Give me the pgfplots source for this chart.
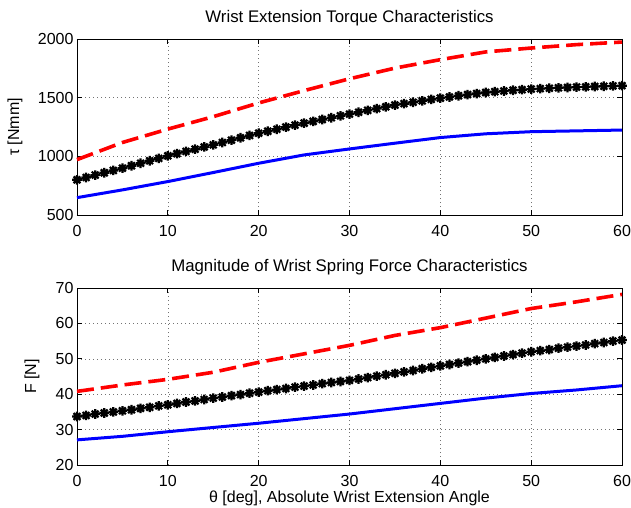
\documentclass[border=0pt]{standalone}
\usepackage{fontspec}
\setmainfont{Liberation Sans}
\usepackage{pgfplots}
\pgfplotsset{compat=1.18}
\usepackage{pgfplotstable}

\pgfdeclareplotmark{mstar}{%
  \pgfpathmoveto{\pgfqpoint{-\pgfplotmarksize}{0pt}}%
  \pgfpathlineto{\pgfqpoint{\pgfplotmarksize}{0pt}}%
  \pgfpathmoveto{\pgfqpoint{0pt}{-\pgfplotmarksize}}%
  \pgfpathlineto{\pgfqpoint{0pt}{\pgfplotmarksize}}%
  \pgfpathmoveto{\pgfqpoint{-0.707\pgfplotmarksize}{-0.707\pgfplotmarksize}}%
  \pgfpathlineto{\pgfqpoint{0.707\pgfplotmarksize}{0.707\pgfplotmarksize}}%
  \pgfpathmoveto{\pgfqpoint{-0.707\pgfplotmarksize}{0.707\pgfplotmarksize}}%
  \pgfpathlineto{\pgfqpoint{0.707\pgfplotmarksize}{-0.707\pgfplotmarksize}}%
  \pgfusepathqstroke}

\pgfplotstableread{
x y
0 972
5 1118
10 1232
15 1338
20 1455
25 1560
30 1661
35 1752
40 1824
45 1890
50 1923
55 1952
60 1974
}\topred
\pgfplotstableread{
x y
0 648
5 714
10 785
15 862
20 941
25 1012
30 1063
35 1112
40 1160
45 1192
50 1210
55 1217
60 1224
}\topblue
\pgfplotstableread{
x y
0 800
1 820
2 840
3 860
4 880
5 899
6 920
7 941
8 962
9 983
10 1004
11 1023
12 1042
13 1061
14 1080
15 1098
16 1118
17 1138
18 1158
19 1178
20 1197
21 1214
22 1231
23 1249
24 1266
25 1283
26 1298
27 1314
28 1329
29 1345
30 1360
31 1376
32 1392
33 1407
34 1422
35 1437
36 1449
37 1461
38 1473
39 1485
40 1496
41 1506
42 1516
43 1526
44 1535
45 1544
46 1551
47 1557
48 1563
49 1568
50 1573
51 1577
52 1580
53 1584
54 1587
55 1590
56 1592
57 1595
58 1597
59 1600
60 1602
}\topblack
\pgfplotstableread{
x y
0 40.8
5 42.6
10 44.2
15 46.2
20 49.0
25 51.4
30 53.8
35 56.6
40 58.8
45 61.5
50 64.2
55 66.1
60 68.2
}\botred
\pgfplotstableread{
x y
0 27.1
5 28.1
10 29.4
15 30.6
20 31.8
25 33.1
30 34.4
35 35.9
40 37.4
45 38.9
50 40.2
55 41.2
60 42.4
}\botblue
\pgfplotstableread{
x y
0 33.7
1 34.0
2 34.4
3 34.7
4 35.0
5 35.3
6 35.6
7 36.0
8 36.3
9 36.7
10 37.0
11 37.4
12 37.8
13 38.1
14 38.5
15 38.9
16 39.2
17 39.6
18 39.9
19 40.3
20 40.6
21 41.0
22 41.3
23 41.6
24 42.0
25 42.3
26 42.6
27 43.0
28 43.3
29 43.6
30 43.9
31 44.3
32 44.7
33 45.1
34 45.5
35 45.9
36 46.3
37 46.7
38 47.2
39 47.6
40 48.0
41 48.4
42 48.8
43 49.2
44 49.6
45 50.0
46 50.4
47 50.8
48 51.2
49 51.6
50 52.0
51 52.3
52 52.6
53 53.0
54 53.3
55 53.6
56 53.9
57 54.3
58 54.6
59 55.0
60 55.3
}\botblack

\pgfplotsset{
  mstyle/.style={
    scale only axis, width=545pt,
    xmin=0, xmax=60, xtick={0,10,...,60},
    grid=major,
    major grid style={black!55, line width=0.5pt, dash pattern=on 1pt off 3pt},
    axis line style={line width=0.7pt},
    tick align=inside, tick pos=both,
    major tick length=5pt,
    tick style={line width=0.7pt, black},
    /pgf/number format/assume math mode=true,
    /pgf/number format/1000 sep={},
    ticklabel style={font=\fontsize{16}{19}\selectfont},
    xticklabel style={anchor=base, yshift=-21pt},
    label style={font=\fontsize{16}{19}\selectfont},
    title style={font=\fontsize{16.8}{20}\selectfont, at={(0.5,1)}, anchor=base, yshift=10.5pt},
    clip=false,
  },
  redl/.style={red, line width=3.6pt, dash pattern=on 17pt off 7pt},
  bluel/.style={blue, line width=3pt},
  blackl/.style={black, line width=1.6pt, mark=mstar, mark size=4.8pt, mark options={line width=2.2pt}},
}

\begin{document}
\begin{tikzpicture}
\useasboundingbox (0pt,0pt) rectangle (631pt,507pt);
\begin{axis}[mstyle, at={(77pt,292pt)}, anchor=south west, height=176pt,
  ymin=500, ymax=2000, ytick={500,1000,1500,2000},
  title={Wrist Extension Torque Characteristics},
  ylabel={τ [Nmm]},
  ylabel style={at={(axis description cs:-0.1138,0.5)}, anchor=center},
]
\addplot[redl] table {\topred};
\addplot[blackl] table {\topblack};
\addplot[bluel] table {\topblue};
\end{axis}
\begin{axis}[mstyle, at={(77pt,42pt)}, anchor=south west, height=177pt,
  ymin=20, ymax=70, ytick={20,30,...,70},
  title={Magnitude of Wrist Spring Force Characteristics},
  ylabel={F [N]},
  ylabel style={at={(axis description cs:-0.0826,0.5)}, anchor=center},
  xlabel={θ [deg], Absolute Wrist Extension Angle},
  xlabel style={at={(axis description cs:0.5,0)}, anchor=base, yshift=-37.8pt},
]
\addplot[redl] table {\botred};
\addplot[blackl] table {\botblack};
\addplot[bluel] table {\botblue};
\end{axis}
\end{tikzpicture}
\end{document}
